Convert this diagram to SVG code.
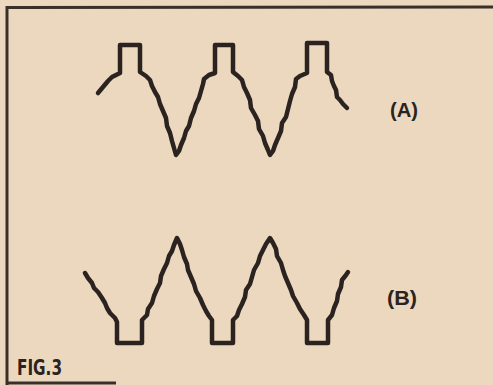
<svg xmlns="http://www.w3.org/2000/svg" width="493" height="385" viewBox="0 0 493 385">
<style>
.wave{fill:none;stroke:#2b2320;stroke-width:4.5;stroke-linejoin:round;stroke-linecap:round}
.frame{fill:none;stroke:#3a302a;stroke-width:3}
.lbl{font-family:"Liberation Sans","DejaVu Sans",sans-serif;font-weight:bold;fill:#2b2320}
</style>
<rect width="493" height="385" fill="#ecd8be"/>
<g id="frame">
<path class="frame" d="M7,385 L7,7.5 L493,7"/>
<path class="frame" d="M7,383 L116,383"/>
</g>
<g id="waveA">
<path class="wave" d="M98,93 L103,87 L108,81 L112,77 L116,75 L120,73 L120,45 L140,45 L140,72 L146,76 L150,80 L152,86 L155,92 L158,97 L160,104 L163,111 L166,118 L167,126 L170,133 L172,141 L174,148 L176,155 L179,151 L181,145 L184,138 L186,131 L189,126 L191,118 L194,111 L196,104 L199,98 L201,91 L203,84 L204,79 L209,75 L215,73 L215,45 L233,45 L233,72 L238,76 L242,80 L244,87 L247,93 L250,100 L251,108 L255,115 L258,121 L259,129 L263,136 L265,143 L268,150 L270,155 L273,151 L275,145 L278,138 L281,131 L282,123 L286,117 L288,109 L290,101 L292,94 L295,87 L296,79 L300,76 L307,73 L307,43 L327,43 L327,72 L331,75 L332,81 L334,86 L336,90 L337,97 L340,100 L343,104 L347,108"/>
</g>
<g id="waveB">
<path class="wave" d="M85,273 L88,278 L92,283 L94,288 L98,292 L102,298 L105,303 L107,308 L110,313 L115,318 L117,322 L117,343 L142,343 L142,320 L147,315 L148,309 L152,303 L154,296 L157,289 L160,283 L161,276 L164,269 L167,263 L169,256 L172,251 L174,245 L177,238 L180,244 L182,250 L184,257 L187,264 L188,270 L191,277 L194,284 L196,291 L200,298 L203,305 L206,311 L209,316 L212,320 L212,343 L233,343 L233,320 L237,316 L239,310 L242,304 L245,297 L246,290 L250,284 L252,277 L254,270 L258,263 L260,256 L263,250 L266,244 L270,238 L273,243 L276,249 L277,256 L281,263 L283,270 L285,276 L288,283 L291,290 L293,296 L297,303 L300,309 L304,315 L307,320 L307,343 L328,343 L328,320 L332,315 L334,308 L337,301 L338,294 L341,287 L342,280 L346,275 L348,272"/>
</g>
<g id="labels">
<text class="lbl" x="404" y="117" font-size="20" text-anchor="middle" textLength="28" lengthAdjust="spacingAndGlyphs">(A)</text>
<text class="lbl" x="402" y="305" font-size="21" text-anchor="middle" textLength="30" lengthAdjust="spacingAndGlyphs">(B)</text>
<text x="17" y="375" font-family="'Liberation Sans Narrow','DejaVu Sans Condensed','Liberation Sans',sans-serif" font-weight="bold" font-size="21" fill="#2b2320" textLength="45" lengthAdjust="spacingAndGlyphs">FIG.3</text>
</g>
</svg>
